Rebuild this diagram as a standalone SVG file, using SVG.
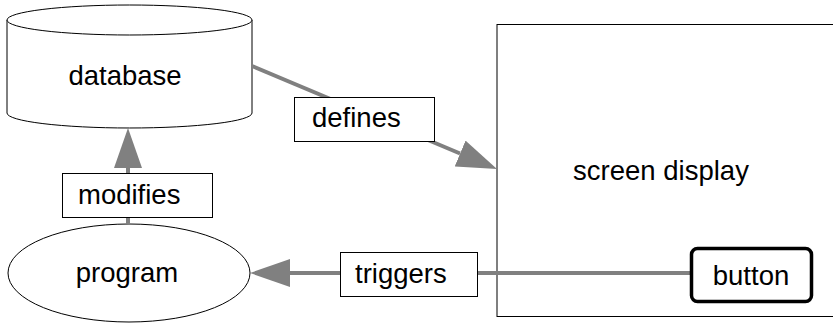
<svg xmlns="http://www.w3.org/2000/svg" width="833" height="325" viewBox="0 0 833 325">
<defs>
<style>
.t{font-family:"Liberation Sans",Arial,sans-serif;font-size:27.5px;fill:#000}
.n{fill:#fff;stroke:#000;stroke-width:1}
.c{stroke:#808080;stroke-width:4;fill:none}
</style>
<marker id="arr" markerUnits="userSpaceOnUse" markerWidth="40" markerHeight="28" refX="0" refY="14" orient="auto">
<path d="M0,0 L40,14 L0,28 z" fill="#808080"/>
</marker>
</defs>
<rect width="833" height="325" fill="#fff"/>
<g id="screen">
<rect class="n" x="497" y="24.5" width="345" height="292"/>
<text class="t" x="661" y="180" text-anchor="middle">screen display</text>
</g>
<g id="database">
<path class="n" d="M7,20 L7,113 A122.5,15 0 0 0 252,113 L252,20"/>
<ellipse class="n" cx="129.5" cy="20" rx="122.5" ry="15"/>
<text class="t" x="125" y="85" text-anchor="middle">database</text>
</g>
<g id="program">
<ellipse class="n" cx="129" cy="273" rx="121" ry="49"/>
<text class="t" x="127" y="282" text-anchor="middle">program</text>
</g>
<g id="connectors">
<line class="c" x1="252" y1="66" x2="460.1" y2="153.5" marker-end="url(#arr)"/>
<line class="c" x1="128" y1="224" x2="128" y2="168" marker-end="url(#arr)"/>
<line class="c" x1="690" y1="273" x2="290" y2="273" marker-end="url(#arr)"/>
</g>
<g id="label-defines">
<rect class="n" x="294.5" y="97.5" width="140" height="44"/>
<text class="t" x="312" y="127">defines</text>
</g>
<g id="label-modifies">
<rect class="n" x="62.5" y="173.5" width="150" height="44"/>
<text class="t" x="78" y="204">modifies</text>
</g>
<g id="label-triggers">
<rect class="n" x="340.5" y="252.5" width="137" height="44"/>
<text class="t" x="355" y="283">triggers</text>
</g>
<g id="button">
<rect x="691.5" y="248.5" width="120" height="53" rx="6" fill="#fff" stroke="#000" stroke-width="3.5"/>
<text class="t" x="751" y="285" text-anchor="middle">button</text>
</g>
</svg>
